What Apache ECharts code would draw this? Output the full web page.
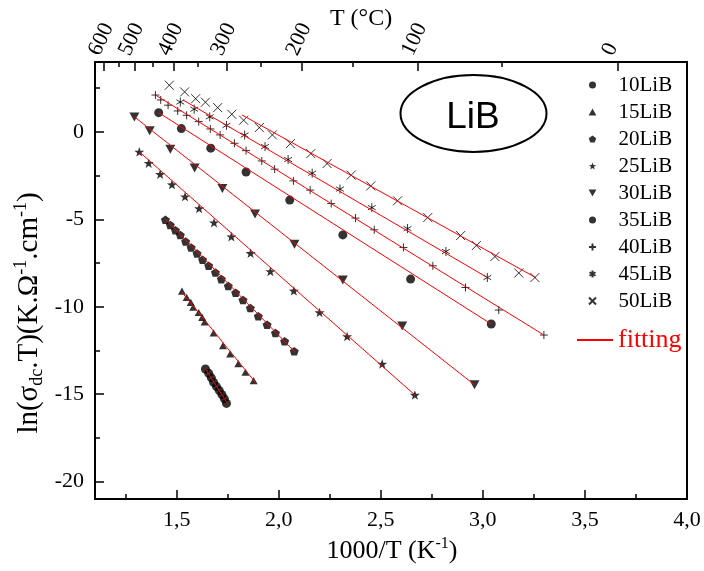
<!DOCTYPE html>
<html>
<head>
<meta charset="utf-8">
<script src="https://cdn.jsdelivr.net/npm/echarts@6.0.0/dist/echarts.min.js"></script>
<style>
html, body { margin: 0; padding: 0; background: #fff; }
#chart { width: 704px; height: 571px; }
</style>
</head>
<body>
<div id="chart"></div>
<script>
// data: x = 1000/T (K-1), y = ln(sigma_dc.T)
const seriesNames = ["10LiB", "15LiB", "20LiB", "25LiB", "30LiB", "35LiB", "40LiB", "45LiB", "50LiB"];

const x10 = [1.641, 1.657, 1.670, 1.681, 1.695, 1.709, 1.722, 1.734, 1.744];
const y10 = [-13.56, -13.81, -14.07, -14.33, -14.57, -14.80, -15.03, -15.27, -15.53];
const x15 = [1.526, 1.549, 1.569, 1.581, 1.608, 1.625, 1.637, 1.681, 1.727, 1.762, 1.802, 1.837, 1.877];
const y15 = [-9.11, -9.47, -9.75, -10.02, -10.33, -10.61, -10.87, -11.50, -12.23, -12.70, -13.26, -13.75, -14.23];
const x20 = [1.445, 1.469, 1.494, 1.518, 1.544, 1.571, 1.600, 1.627, 1.657, 1.690, 1.719, 1.753, 1.789, 1.825, 1.861, 1.900, 1.943, 1.984, 2.029, 2.076];
const y20 = [-5.03, -5.33, -5.62, -5.90, -6.27, -6.61, -6.95, -7.31, -7.66, -8.04, -8.42, -8.82, -9.20, -9.62, -10.07, -10.55, -11.03, -11.50, -11.98, -12.55];
const x25 = [1.317, 1.363, 1.419, 1.477, 1.541, 1.610, 1.683, 1.768, 1.862, 1.959, 2.074, 2.200, 2.335, 2.507, 2.667];
const y25 = [-1.14, -1.79, -2.42, -3.01, -3.70, -4.38, -5.19, -5.99, -6.94, -7.98, -9.09, -10.33, -11.70, -13.27, -15.05];
const x30 = [1.293, 1.368, 1.469, 1.588, 1.724, 1.884, 2.077, 2.314, 2.605, 2.959];
const y30 = [0.86, 0.06, -0.99, -2.07, -3.24, -4.70, -6.43, -8.47, -11.11, -14.47];
const x35 = [1.412, 1.523, 1.667, 1.840, 2.054, 2.314, 2.646, 3.041];
const y35 = [1.10, 0.19, -0.93, -2.29, -3.90, -5.89, -8.42, -10.99];
const x40 = [1.396, 1.422, 1.458, 1.505, 1.549, 1.608, 1.665, 1.713, 1.783, 1.840, 1.917, 1.980, 2.072, 2.154, 2.257, 2.376, 2.468, 2.611, 2.755, 2.915, 3.078, 3.299];
const y40 = [2.11, 1.83, 1.53, 1.20, 0.95, 0.59, 0.17, -0.17, -0.65, -1.07, -1.66, -2.13, -2.80, -3.33, -4.10, -4.93, -5.60, -6.61, -7.66, -8.90, -10.19, -11.62];
const x45 = [1.518, 1.586, 1.662, 1.744, 1.833, 1.933, 2.046, 2.164, 2.300, 2.456, 2.631, 2.819, 3.022];
const y45 = [1.71, 1.30, 0.86, 0.37, -0.18, -0.84, -1.58, -2.36, -3.27, -4.33, -5.53, -6.84, -8.33];
const x50 = [1.464, 1.539, 1.593, 1.641, 1.701, 1.770, 1.828, 1.905, 1.969, 2.057, 2.157, 2.237, 2.355, 2.451, 2.582, 2.730, 2.891, 2.968, 3.059, 3.176, 3.255];
const y50 = [2.67, 2.29, 1.90, 1.70, 1.39, 1.01, 0.67, 0.25, -0.17, -0.67, -1.24, -1.81, -2.47, -3.09, -3.94, -4.90, -5.93, -6.50, -7.13, -8.07, -8.33];

// fitted lines, start and end of each (same order as seriesNames)
const fitX0 = [1.641, 1.526, 1.445, 1.317, 1.293, 1.412, 1.396, 1.531, 1.820];
const fitY0 = [-13.56, -9.18, -4.99, -1.14, 0.86, 1.10, 2.11, 1.83, 0.97];
const fitX1 = [1.750, 1.886, 2.080, 2.667, 2.959, 3.041, 3.299, 3.022, 3.260];
const fitY1 = [-15.56, -14.33, -12.60, -15.05, -14.47, -10.99, -11.62, -8.33, -8.34];

// tick labels
const xTicks = [1.5, 2.0, 2.5, 3.0, 3.5, 4.0];
const xMinor = [1.25, 1.75, 2.25, 2.75, 3.25, 3.75];
const yTicks = [-20, -15, -10, -5, 0];
const yMinor = [-17.5, -12.5, -7.5, -2.5, 2.5];
const topTempC = [600, 500, 400, 300, 200, 100, 0];
const topMinorC = [550, 450, 350, 250, 150, 50];

const xs = [x10, x15, x20, x25, x30, x35, x40, x45, x50];
const ys = [y10, y15, y20, y25, y30, y35, y40, y45, y50];

const toInv = (t) => 1000 / (t + 273.15);
const serif = "Liberation Serif";

const triUp = "path://M0,-0.9L1,0.9L-1,0.9Z";
const triDown = "path://M-1,-0.9L1,-0.9L0,0.9Z";
const pentagon = "path://M0,-1L0.951,-0.309L0.588,0.809L-0.588,0.809L-0.951,-0.309Z";
const star = "path://M0,-1L0.235,-0.324L0.951,-0.309L0.380,0.124L0.588,0.809L0,0.4L-0.588,0.809L-0.380,0.124L-0.951,-0.309L-0.235,-0.324Z";
const plus = "path://M0,-1L0,1M-1,0L1,0";
const aster = "path://M0,-1L0,1M-0.866,-0.5L0.866,0.5M-0.866,0.5L0.866,-0.5";
const cross = "path://M-1,-1L1,1M-1,1L1,-1";

const symbols = ["circle", triUp, pentagon, star, triDown, "circle", plus, aster, cross];
const symSize = [9, 8, 9, 10, 10, 9, 8, 9, 9];
const strokeOnly = [false, false, false, false, false, false, true, true, true];

var chart = echarts.init(document.getElementById("chart"));

var series = [];
seriesNames.forEach(function (name, i) {
  series.push({
    name: name,
    type: "scatter",
    data: xs[i].map(function (x, k) { return [x, ys[i][k]]; }),
    symbol: symbols[i],
    symbolSize: symSize[i],
    symbolKeepAspect: true,
    itemStyle: strokeOnly[i]
      ? { color: "rgba(0,0,0,0)", borderColor: "#000", borderWidth: 1 }
      : { color: "#000" },
    z: 2,
  });
});
seriesNames.forEach(function (name, i) {
  series.push({
    name: "fitting",
    type: "line",
    data: [[fitX0[i], fitY0[i]], [fitX1[i], fitY1[i]]],
    symbol: "none",
    lineStyle: { color: "#ff0000", width: 1 },
    z: 3,
  });
});

function minorAxis(pos, vals, isY) {
  return {
    type: "value",
    position: pos,
    min: isY ? -21 : 1.1,
    max: isY ? 4 : 4.0,
    axisLine: { show: false, onZero: false },
    splitLine: { show: false },
    axisLabel: { show: false },
    axisTick: { inside: true, length: 5, lineStyle: { color: "#000", width: 1.5 }, customValues: vals },
  };
}

var option = {
  animation: false,
  backgroundColor: "#fff",
  grid: {
    left: 95, right: 17, top: 62, bottom: 72,
    show: true, borderColor: "#000", borderWidth: 2,
  },
  xAxis: [
    {
      type: "value", position: "bottom", min: 1.1, max: 4.0,
      axisLine: { show: false, onZero: false },
      splitLine: { show: false },
      axisTick: { inside: true, length: 9, lineStyle: { color: "#000", width: 1.5 }, customValues: xTicks },
      axisLabel: {
        customValues: xTicks, margin: 10,
        fontFamily: serif, fontSize: 22, color: "#000",
        formatter: function (v) { return v.toFixed(1).replace(".", ","); },
      },
    },
    minorAxis("bottom", xMinor, false),
    {
      type: "value", position: "top", min: 1.1, max: 4.0,
      axisLine: { show: false, onZero: false },
      splitLine: { show: false },
      axisTick: { inside: true, length: 9, lineStyle: { color: "#000", width: 1.5 }, customValues: topTempC.map(toInv) },
      axisLabel: {
        customValues: topTempC.map(toInv), rotate: -65, align: "left", verticalAlign: "bottom", margin: 3,
        fontFamily: serif, fontSize: 22, color: "#000",
        formatter: function (v) { return String(Math.round(1000 / v - 273.15)); },
      },
    },
    minorAxis("top", topMinorC.map(toInv), false),
  ],
  yAxis: [
    {
      type: "value", position: "left", min: -21, max: 4,
      axisLine: { show: false, onZero: false },
      splitLine: { show: false },
      axisTick: { inside: true, length: 9, lineStyle: { color: "#000", width: 1.5 }, customValues: yTicks },
      axisLabel: { customValues: yTicks, margin: 11, fontFamily: serif, fontSize: 22, color: "#000" },
    },
    minorAxis("left", yMinor, true),
  ],
  legend: [
    {
      orient: "vertical", left: 588, top: 71.5, padding: 0,
      itemWidth: 42, itemHeight: 7, itemGap: 0,
      selectedMode: false,
      data: seriesNames,
      textStyle: { fontFamily: serif, fontSize: 21, color: "#000", lineHeight: 27 },
    },
    {
      orient: "vertical", left: 577, top: 326, padding: 0,
      itemWidth: 36, itemHeight: 2, itemGap: 0,
      selectedMode: false,
      data: [{ name: "fitting", icon: "rect", itemStyle: { color: "#ff0000" } }],
      textStyle: { fontFamily: serif, fontSize: 26, color: "#ff0000", lineHeight: 28 },
    },
  ],
  graphic: [
    {
      type: "text", x: 361, y: 19,
      style: { text: "T (°C)", align: "center", verticalAlign: "middle", fontFamily: serif, fontSize: 24, fill: "#000" },
    },
    {
      type: "text", x: 392, y: 551,
      style: {
        text: "{n|1000/T (K}{p|-1}{n|)}", align: "center", verticalAlign: "middle",
        fontFamily: serif, fontSize: 26, fill: "#000",
        rich: {
          n: { fontFamily: serif, fontSize: 26, lineHeight: 30 },
          p: { fontFamily: serif, fontSize: 16, lineHeight: 16, verticalAlign: "top" },
        },
      },
    },
    {
      type: "text", x: 29, y: 313, rotation: Math.PI / 2,
      style: {
        text: "{n|ln(σ}{s|dc}{n|.T)(K.Ω}{p|-1}{n|.cm}{p|-1}{n|)}", align: "center", verticalAlign: "middle",
        fontFamily: serif, fontSize: 29, fill: "#000",
        rich: {
          n: { fontFamily: serif, fontSize: 29, lineHeight: 34 },
          s: { fontFamily: serif, fontSize: 18, lineHeight: 18, verticalAlign: "bottom" },
          p: { fontFamily: serif, fontSize: 18, lineHeight: 18, verticalAlign: "top" },
        },
      },
    },
    {
      type: "ellipse",
      shape: { cx: 473.5, cy: 113.5, rx: 73, ry: 38.5 },
      style: { fill: "none", stroke: "#000", lineWidth: 2 },
    },
    {
      type: "text", x: 473, y: 118,
      style: { text: "LiB", align: "center", verticalAlign: "middle", fontFamily: "Liberation Sans", fontSize: 37, fill: "#000" },
    },
  ],
  series: series,
};

chart.setOption(option);
</script>
</body>
</html>
